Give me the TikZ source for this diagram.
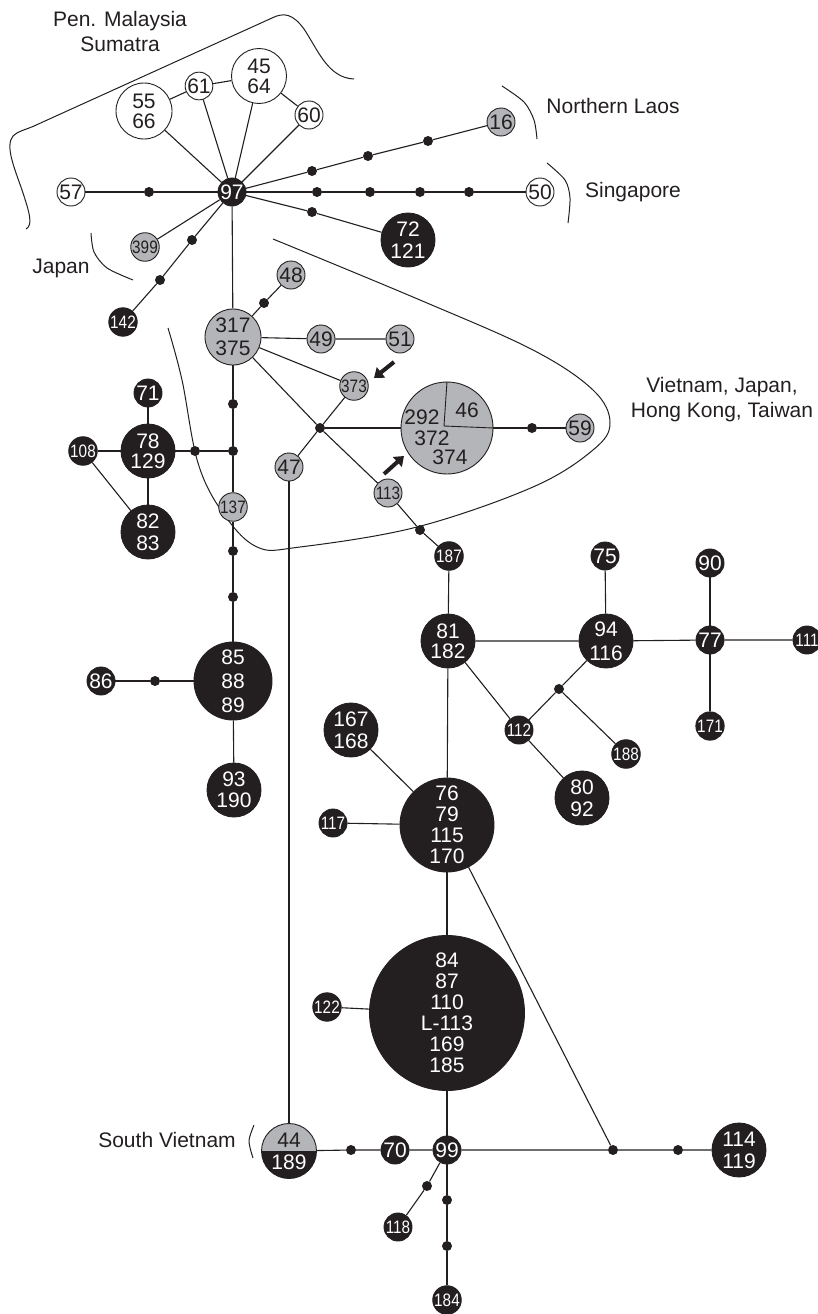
\documentclass[tikz,border=0pt]{standalone}
\usepackage{fontspec}
\setmainfont{Liberation Sans}
\newfontfamily\narrowsf[FakeStretch=0.85]{Liberation Sans}
\usetikzlibrary{arrows.meta}
\definecolor{ink}{HTML}{231F20}
\definecolor{hapgray}{HTML}{B4B5B8}
\begin{document}
\begin{tikzpicture}[x=1pt,y=-1pt,
  hap/.style={circle, draw=ink, line width=0.9pt, inner sep=0pt, align=center, minimum size=28pt, font=\fontsize{21}{22}\selectfont},
  wh/.style={hap, fill=white, text=ink},
  gr/.style={hap, fill=hapgray, text=ink},
  bk/.style={hap, fill=ink, text=white},
  sm/.style={font=\narrowsf\fontsize{18}{19}\selectfont},
  dot/.style={circle, fill=ink, inner sep=0pt, minimum size=10pt},
  edge/.style={draw=ink, line width=1.1pt},
  region/.style={font=\fontsize{21}{25}\selectfont, text=ink, align=center},
  brace/.style={draw=ink, line width=1pt},
  pointer/.style={draw=ink, line width=4pt, -{Triangle[length=9pt,width=13pt]}},
  txt/.style={font=\fontsize{21}{22}\selectfont, text=ink, inner sep=0pt}
]
\useasboundingbox (0,0) rectangle (817,1314);

% ---------- region brackets ----------
\draw[brace] (26,229) .. controls (33,225) and (30,214) .. (22,190)
  .. controls (14,167) and (5,146) .. (13,136)
  .. controls (18,131) and (25,130) .. (34,126)
  -- (272,18)
  .. controls (284,12) and (293,14) .. (304,29)
  .. controls (318,50) and (328,78) .. (354,79);
\draw[brace] plot[smooth] coordinates {(91,233) (94,252) (107,268) (133,280)};
\draw[brace] plot[smooth] coordinates {(502,86) (524,102) (534,120) (537,139)};
\draw[brace] plot[smooth] coordinates {(547,163) (565,180) (570,198) (568,223)};
\draw[brace] plot[smooth] coordinates {(254,1125) (249,1141) (253,1158)};
\draw[brace] plot[smooth, tension=0.6] coordinates {(273,239) (420,300) (533,350) (593,390) (610,423) (593,450) (533,487) (417,527) (300,547) (257,547) (223,513) (198,463) (182,380) (168,328)};

% ---------- region labels ----------
\node[region] (lMal) at (120,31) {Pen. Malaysia\\Sumatra};
\node[region] (lLaos) at (613,106) {Northern Laos};
\node[region] (lSing) at (633,192) {Singapore};
\node[region] (lJap) at (61,268) {Japan};
\node[region] (lViet) at (722,400) {Vietnam, Japan,\\Hong Kong, Taiwan};
\node[region] (lSV) at (167,1140) {South Vietnam};

% ---------- haplotype nodes ----------
\node[wh] (n57) at (71,192) {57};
\node[wh, minimum size=56pt, font=\fontsize{21}{20}\selectfont] (n5566) at (144,111) {55\\66};
\node[wh, minimum size=26pt] (n61) at (199,86) {61};
\node[wh, minimum size=55pt, font=\fontsize{21}{20}\selectfont] (n4564) at (259,76) {45\\64};
\node[wh] (n60) at (309,115) {60};
\node[wh] (n50) at (540,192) {50};
\node[bk] (n97) at (232,192) {97};

\node[gr] (n16) at (501,122) {16};
\node[gr, sm] (n399) at (145,247) {399};
\node[gr] (n48) at (291,275) {48};
\node[gr, minimum size=56pt, font=\fontsize{21}{23}\selectfont] (n317) at (233,337) {317\\375};
\node[gr] (n49) at (321,339) {49};
\node[gr] (n51) at (400,339) {51};
\node[gr, sm] (n373) at (354,386) {373};
\node[gr] (n47) at (289,467) {47};
\node[gr, sm] (n113) at (388,493) {113};
\node[gr, sm] (n137) at (233,507) {137};
\node[gr, minimum size=92pt] (nV) at (447,428) {};
\node[gr] (n59) at (580,428) {59};
\node[hap, fill=hapgray, minimum size=55pt, text=ink,
  path picture={\fill[ink] (path picture bounding box.west) rectangle (path picture bounding box.south east);}]
  (n44) at (289,1151) {44\\\textcolor{white}{189}};

\node[bk, minimum size=54pt] (n72) at (408,240) {72\\121};
\node[bk, sm] (n142) at (123,322) {142};
\node[bk] (n71) at (148,393) {71};
\node[bk, minimum size=54pt, font=\fontsize{21}{20}\selectfont] (n78) at (148,451) {78\\129};
\node[bk, sm] (n108) at (83,451) {108};
\node[bk, minimum size=54pt] (n82) at (148,532) {82\\83};
\node[bk, sm] (n187) at (449,556) {187};
\node[bk] (n75) at (605,556) {75};
\node[bk] (n90) at (710,563) {90};
\node[bk, minimum size=54pt, font=\fontsize{21}{20}\selectfont] (n81) at (448,641) {81\\182};
\node[bk, minimum size=54pt, font=\fontsize{21}{24}\selectfont] (n94) at (606,641) {94\\116};
\node[bk] (n77) at (710,640) {77};
\node[bk, sm] (n111) at (807,640) {111};
\node[bk, sm] (n171) at (710,726) {171};
\node[bk, sm] (n112) at (519,730) {112};
\node[bk, sm] (n188) at (626,754) {188};
\node[bk, minimum size=54pt] (n80) at (582,798) {80\\92};
\node[bk, minimum size=78pt, font=\fontsize{21}{24}\selectfont] (n85) at (233,681) {85\\88\\89};
\node[bk] (n86) at (101,681) {86};
\node[bk, minimum size=54pt, font=\fontsize{21}{21}\selectfont] (n93) at (234,790) {93\\190};
\node[bk, minimum size=54pt] (n167) at (351,730) {167\\168};
\node[bk, sm] (n117) at (333,823) {117};
\node[bk, minimum size=94pt, font=\fontsize{21}{21}\selectfont] (n76) at (447,825) {76\\79\\115\\170};
\node[bk, minimum size=155pt, font=\fontsize{21}{21}\selectfont] (n84) at (447,1013) {84\\87\\110\\L-113\\169\\185};
\node[bk, sm] (n122) at (327,1007) {122};
\node[bk] (n70) at (395,1150) {70};
\node[bk] (n99) at (447,1150) {99};
\node[bk, minimum size=54pt] (n114) at (739,1150) {114\\119};
\node[bk, sm] (n118) at (398,1227) {118};
\node[bk, sm] (n184) at (447,1300) {184};

% text inside the divided circle
\coordinate (vcorner) at (444,426);
\draw[ink, line width=0.9pt] (nV.north) -- (vcorner) -- (nV.east);
\node[txt] (t292) at (422,417) {292};
\node[txt] (t372) at (432,438) {372};
\node[txt] (t374) at (450,457) {374};
\node[txt] (t46) at (467,410) {46};

% ---------- median vectors (dots) ----------
\node[dot] (d57) at (149,192) {};
\node[dot] (d16a) at (312,171) {};
\node[dot] (d16b) at (368,156) {};
\node[dot] (d16c) at (428,141) {};
\node[dot] (d50a) at (317,192) {};
\node[dot] (d50b) at (370,192) {};
\node[dot] (d50c) at (420,192) {};
\node[dot] (d50d) at (469,192) {};
\node[dot] (d72) at (312,212) {};
\node[dot] (d142a) at (192,240) {};
\node[dot] (d142b) at (160,280) {};
\node[dot] (d48) at (264,303) {};
\node[dot] (dJ) at (320,428) {};
\node[dot] (dVa) at (532,428) {};
\node[dot] (d113) at (420,530) {};
\node[dot] (dv1) at (233,404) {};
\node[dot] (dv2) at (233,451) {};
\node[dot] (d78) at (195,451) {};
\node[dot] (dv3) at (233,551) {};
\node[dot] (dv4) at (233,597) {};
\node[dot] (d86) at (155,681) {};
\node[dot] (d94) at (559,689) {};
\node[dot] (d44) at (351,1150) {};
\node[dot] (d99a) at (613,1150) {};
\node[dot] (d99b) at (678,1150) {};
\node[dot] (d118) at (427,1186) {};
\node[dot] (d184a) at (447,1200) {};
\node[dot] (d184b) at (447,1246) {};

% ---------- connectors ----------
\draw[edge] (n57) -- (d57) -- (n97);
\draw[edge] (n97) -- (n5566);
\draw[edge] (n97) -- (n61);
\draw[edge] (n97) -- (n4564);
\draw[edge] (n97) -- (n60);
\draw[edge] (n5566) -- (n61) -- (n4564) -- (n60);
\draw[edge] (n97) -- (d16a) -- (d16b) -- (d16c) -- (n16);
\draw[edge] (n97) -- (d50a) -- (d50b) -- (d50c) -- (d50d) -- (n50);
\draw[edge] (n97) -- (d72) -- (n72);
\draw[edge] (n97) -- (n399);
\draw[edge] (n97) -- (d142a) -- (d142b) -- (n142);
\draw[edge] (n97) -- (n317);
\draw[edge] (n317) -- (d48) -- (n48);
\draw[edge] (n317) -- (n49) -- (n51);
\draw[edge] (n317) -- (n373);
\draw[edge] (n317) -- (dJ) -- (n113) -- (d113) -- (n187);
\draw[edge] (n373) -- (dJ) -- (n47);
\draw[edge] (dJ) -- (nV);
\draw[edge] (nV) -- (dVa) -- (n59);
\draw[edge] (n317) -- (dv1) -- (dv2) -- (n137) -- (dv3) -- (dv4) -- (n85);
\draw[edge] (dv2) -- (d78) -- (n78);
\draw[edge] (n71) -- (n78) -- (n82);
\draw[edge] (n108) -- (n78);
\draw[edge] (n108) -- (n82);
\draw[edge] (n85) -- (d86) -- (n86);
\draw[edge] (n85) -- (n93);
\draw[edge] (n187) -- (n81);
\draw[edge] (n81) -- (n94) -- (n77) -- (n111);
\draw[edge] (n75) -- (n94);
\draw[edge] (n90) -- (n77) -- (n171);
\draw[edge] (n94) -- (d94) -- (n112);
\draw[edge] (d94) -- (n188);
\draw[edge] (n81) -- (n112) -- (n80);
\draw[edge] (n81) -- (n76);
\draw[edge] (n167) -- (n76);
\draw[edge] (n117) -- (n76);
\draw[edge] (n76) -- (n84);
\draw[edge] (n76) -- (d99a);
\draw[edge] (n122) -- (n84);
\draw[edge] (n84) -- (n99);
\draw[edge] (n47) -- (n44);
\draw[edge] (n44) -- (d44) -- (n70) -- (n99) -- (d99a) -- (d99b) -- (n114);
\draw[edge] (n99) -- (d118) -- (n118);
\draw[edge] (n99) -- (d184a) -- (d184b) -- (n184);

% ---------- pointer arrows ----------
\coordinate (a1s) at (394,362);
\coordinate (a1e) at (374,378);
\coordinate (a2s) at (384,474);
\coordinate (a2e) at (404,456);
\draw[pointer] (a1s) -- (a1e);
\draw[pointer] (a2s) -- (a2e);
\end{tikzpicture}
\end{document}
